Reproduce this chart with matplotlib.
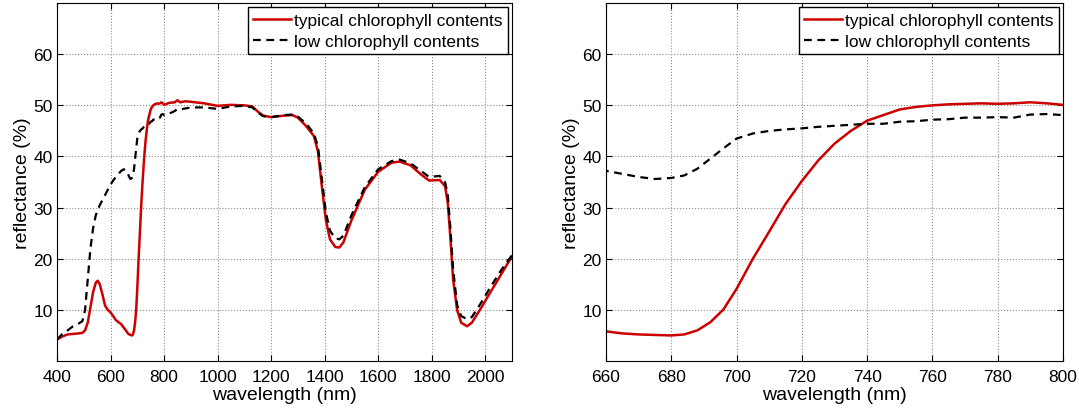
import numpy as np
import matplotlib
matplotlib.use('Agg')
import matplotlib.pyplot as plt

plt.rcParams['font.family'] = ['Liberation Sans', 'DejaVu Sans']

# wavelength grid (nm) shared by both spectra
wavelength = [400, 420, 440, 460, 480, 495, 505, 515, 525, 535, 545, 552, 560, 570, 580,
              590, 600, 610, 620, 630, 640, 650, 660, 665, 670, 675, 680, 684, 688, 692, 696,
              700, 705, 710, 715, 720, 725, 730, 735, 740, 745, 750, 755, 760, 765, 770,
              775, 780, 785, 790, 795, 800, 820, 840, 850, 860, 880, 900, 950, 1000, 1050,
              1100, 1130, 1150, 1170, 1200, 1250, 1280, 1300, 1330, 1360, 1375, 1390, 1405,
              1420, 1440, 1455, 1470, 1500, 1550, 1600, 1650, 1680, 1720, 1760, 1790, 1830,
              1850, 1860, 1870, 1880, 1895, 1910, 1932, 1950, 1980, 2020, 2060, 2100]

# typical chlorophyll contents (%)
typical = [4.2, 4.8, 5.2, 5.3, 5.4, 5.5, 6.0, 7.5, 10.5, 13.5, 15.3, 15.7, 15.0, 13.0, 10.8,
           10.0, 9.5, 8.8, 8.0, 7.6, 7.2, 6.5, 5.8, 5.4, 5.2, 5.1, 5.0, 5.2, 6.0, 7.6, 10.1,
           14.1, 20.0, 25.3, 30.7, 35.2, 39.2, 42.5, 45.0, 47.0, 48.1, 49.2, 49.7, 50.0, 50.2, 50.3,
           50.4, 50.3, 50.4, 50.6, 50.4, 50.1, 50.5, 50.6, 51.0, 50.6, 50.8, 50.7, 50.4, 49.9, 50.1,
           50.0, 49.8, 48.8, 48.0, 47.7, 48.0, 48.1, 47.6, 46.0, 44.0, 41.0, 34.0, 27.5,
           23.8, 22.3, 22.2, 23.2, 27.5, 33.5, 37.0, 38.8, 39.0, 38.3, 36.5, 35.3, 35.4,
           34.2, 31.0, 24.0, 16.0, 10.0, 7.5, 6.8, 7.5, 10.0, 13.5, 17.0, 20.5]

# low chlorophyll contents (%)
low = [4.2, 5.3, 6.0, 6.8, 7.3, 7.8, 10.0, 16.0, 22.0, 26.0, 28.5, 29.5, 30.5, 31.5, 32.5,
       33.5, 34.5, 35.3, 36.0, 36.6, 37.2, 37.5, 37.2, 36.6, 36.0, 35.6, 35.8, 36.3, 37.6, 39.6, 41.6,
       43.5, 44.5, 45.0, 45.3, 45.5, 45.8, 46.0, 46.2, 46.4, 46.4, 46.8, 46.9, 47.2, 47.3, 47.6,
       47.6, 47.7, 47.6, 48.2, 48.3, 48.1, 48.4, 48.9, 49.3, 49.2, 49.4, 49.6, 49.6, 49.3, 49.8,
       49.9, 49.6, 48.6, 47.9, 47.7, 48.1, 48.2, 47.8, 46.5, 44.5, 42.0, 35.5, 29.0,
       25.5, 24.0, 23.8, 24.5, 28.5, 34.0, 37.5, 39.1, 39.4, 38.7, 37.2, 36.0, 36.2,
       35.0, 32.5, 26.0, 18.0, 11.0, 8.8, 8.2, 8.6, 11.0, 14.5, 17.8, 20.7]

fig = plt.figure(figsize=(10.79, 4.10), dpi=100)
ax1 = fig.add_axes([0.0528, 0.117, 0.4217, 0.873])
ax2 = fig.add_axes([0.5616, 0.117, 0.4235, 0.873])

panels = [(ax1, (400, 2100), range(400, 2101, 200)),
          (ax2, (660, 800), range(660, 801, 20))]

for ax, xlim, xt in panels:
    ax.plot(wavelength, typical, color='#cc0000', lw=1.8, label='typical chlorophyll contents')
    ax.plot(wavelength, low, color='black', lw=1.6, dashes=(3.5, 2.5), label='low chlorophyll contents')
    ax.set_xlim(xlim)
    ax.set_ylim(0, 70)
    ax.set_xticks(list(xt))
    ax.set_yticks([10, 20, 30, 40, 50, 60])
    ax.grid(True, linestyle=':', color='0.55', lw=0.8)
    ax.tick_params(direction='in', top=True, right=True, labelsize=12.5, length=4)
    ax.tick_params(axis='x', pad=6)
    ax.tick_params(axis='y', pad=3)
    ax.set_xlabel('wavelength (nm)', fontsize=14, labelpad=1)
    ax.set_ylabel('reflectance (%)', fontsize=14, labelpad=2)
    leg = ax.legend(loc='upper right', fontsize=12.5, fancybox=False, framealpha=1,
                    edgecolor='black', borderaxespad=0.25, handlelength=2.2,
                    handletextpad=0.15, borderpad=0.3, labelspacing=0.35)
    leg.get_frame().set_linewidth(1.0)

fig.savefig('out.png', dpi=100)
